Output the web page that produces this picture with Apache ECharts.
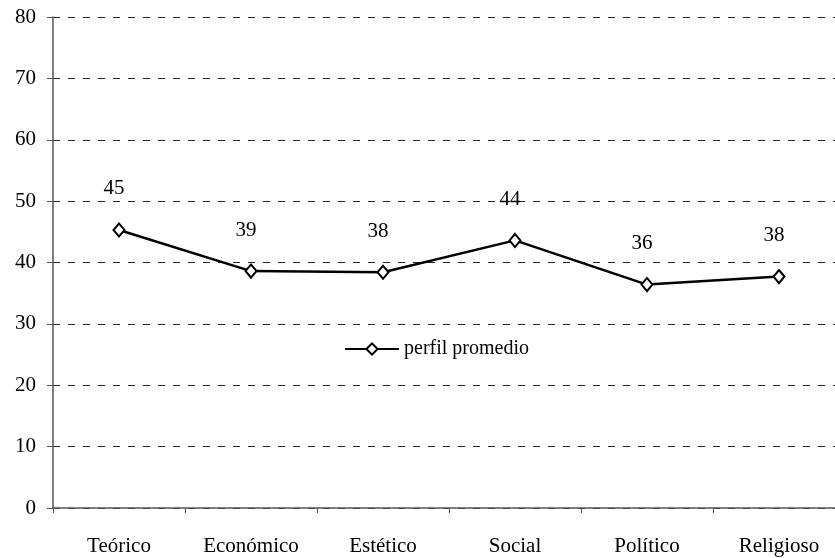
<!DOCTYPE html>
<html><head><meta charset="utf-8">
<script src="https://cdn.jsdelivr.net/npm/echarts@6/dist/echarts.min.js"></script>
<style>html,body{margin:0;padding:0;background:#fff;overflow:hidden}#c{width:845px;height:558px}</style>
</head><body><div id="c"></div>
<script>
var categories = ['Teórico', 'Económico', 'Estético', 'Social', 'Político', 'Religioso'];
var perfilPromedio = [45.3, 38.6, 38.4, 43.6, 36.4, 37.7];
var seriesName = 'perfil promedio';
var FONT = 'Liberation Serif';
var chart = echarts.init(document.getElementById('c'));
chart.setOption({
  animation: false,
  backgroundColor: '#fff',
  textStyle: { fontFamily: FONT },
  grid: { left: 53, top: 17, bottom: 50, right: 0, containLabel: false },
  legend: {
    data: [seriesName], left: 339, top: 334,
    itemWidth: 54, itemHeight: 14, itemGap: 6,
    textStyle: { fontFamily: FONT, fontSize: 20, color: '#000' }
  },
  xAxis: {
    type: 'category', data: categories, boundaryGap: true,
    axisLine: { lineStyle: { color: '#555', width: 1.5 } },
    axisTick: { show: true, length: 5, lineStyle: { color: '#555' } },
    axisLabel: { fontFamily: FONT, fontSize: 21, color: '#000', margin: 28, interval: 0 },
    splitLine: { show: false }
  },
  yAxis: {
    type: 'value', min: 0, max: 80, interval: 10,
    axisLine: { show: true, lineStyle: { color: '#555', width: 1.5 } },
    axisTick: { show: true, length: 6, lineStyle: { color: '#555' } },
    axisLabel: { fontFamily: FONT, fontSize: 21, color: '#000', margin: 17 },
    splitLine: { show: true, lineStyle: { color: '#222', type: [7, 8], width: 1 } }
  },
  series: [{
    name: seriesName, type: 'line', data: perfilPromedio,
    symbol: 'diamond', symbolSize: [11, 13],
    lineStyle: { color: '#000', width: 2.5 },
    itemStyle: { color: '#fff', borderColor: '#000', borderWidth: 2 },
    label: {
      show: true, position: 'top', distance: 23, offset: [-5, 0],
      fontFamily: FONT, fontSize: 21, color: '#000',
      formatter: function (p) { return Math.round(p.value); }
    }
  }]
});
</script></body></html>
